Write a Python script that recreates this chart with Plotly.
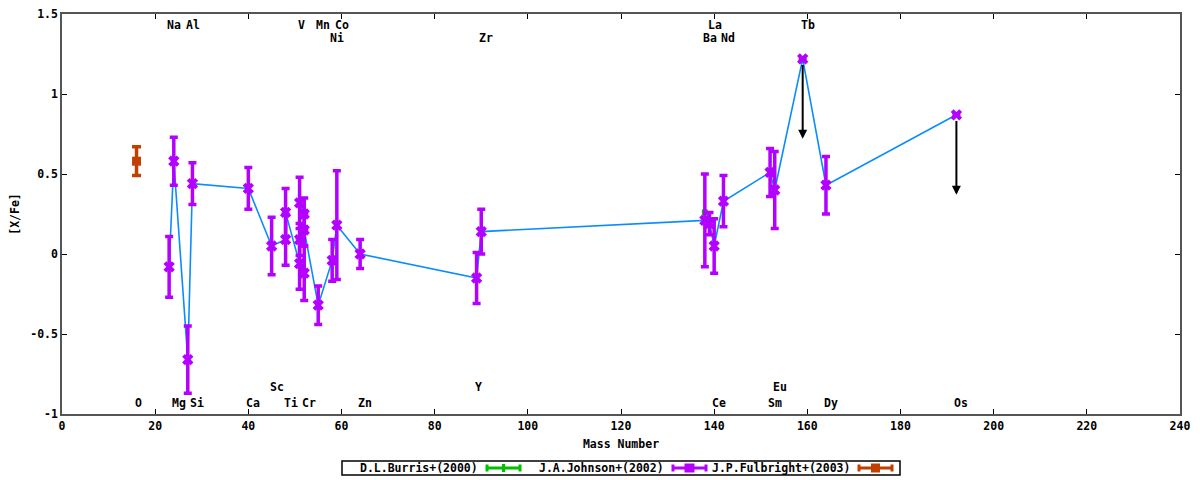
import plotly.graph_objects as go

# J.A.Johnson+(2002) abundances, in mass order (None error = upper limit)
jo_elem = ["Na", "Mg", "Al", "Si", "Ca", "Sc", "Ti", "Ti", "V", "V", "V",
           "Cr", "Cr", "Cr", "Mn", "Ni", "Co", "Zn", "Y", "Zr", "Ba", "La",
           "Ce", "Nd", "Sm", "Eu", "Tb", "Dy", "Os"]
jo_mass = [23, 24, 27, 28, 40, 45, 48, 48, 51, 51, 51,
           52, 52, 52, 55, 58, 59, 64, 89, 90, 138, 139,
           140, 142, 152, 153, 159, 164, 192]
jo_val = [-0.08, 0.58, -0.66, 0.44, 0.41, 0.05, 0.09, 0.26, -0.06, 0.09, 0.32,
          0.25, -0.12, 0.15, -0.32, -0.04, 0.18, 0.00, -0.15, 0.14, 0.21, 0.19,
          0.05, 0.33, 0.51, 0.40, 1.22, 0.43, 0.87]
jo_err = [0.19, 0.15, 0.21, 0.13, 0.13, 0.18, 0.16, 0.15, 0.16, 0.10, 0.16,
          0.10, 0.17, 0.10, 0.12, 0.13, 0.34, 0.09, 0.16, 0.14, 0.29, 0.07,
          0.17, 0.16, 0.15, 0.24, None, 0.18, None]
limit_len = 0.5

# D.L.Burris+(2000)
bu_mass = [138]
bu_val = [0.26]
bu_err = [0.10]

# J.P.Fulbright+(2003)
fu_mass = [16]
fu_val = [0.58]
fu_err = [0.09]

# element labels: name, mass, row (1/2 = top rows, -1/-2 = bottom rows)
lab_name = ["Na", "Al", "V", "Mn", "Co", "Ni", "Zr", "La", "Ba", "Nd", "Tb",
            "O", "Mg", "Si", "Ca", "Sc", "Ti", "Cr", "Zn", "Y", "Ce", "Sm", "Eu", "Dy", "Os"]
lab_mass = [23, 27, 51, 55, 59, 58, 90, 139, 138, 142, 159,
            16, 24, 28, 40, 45, 48, 52, 64, 89, 140, 152, 153, 164, 192]
lab_row = [1, 1, 1, 1, 1, 2, 2, 1, 2, 2, 1,
           -1, -1, -1, -1, -2, -1, -1, -1, -2, -1, -1, -2, -1, -1]

x_ticks = list(range(0, 241, 20))
y_ticks = [-1, -0.5, 0, 0.5, 1, 1.5]
y_tick_text = ["-1", "-0.5", "0", "0.5", "1", "1.5"]

FONT = "DejaVu Sans Mono"
PURPLE = "#b400ff"
ORANGE = "#c04000"
GREEN = "#00c000"
BLUE = "#0a8cff"

fig = go.Figure()

fig.add_trace(go.Scatter(x=jo_mass, y=jo_val, mode="lines",
                         line=dict(color=BLUE, width=1.6), hoverinfo="skip"))

fig.add_trace(go.Scatter(
    x=bu_mass, y=bu_val, mode="markers",
    marker=dict(symbol="square", size=6, color=GREEN),
    error_y=dict(type="data", array=bu_err, color=GREEN, thickness=2, width=0)))

fig.add_trace(go.Scatter(
    x=jo_mass, y=jo_val, mode="markers", text=jo_elem,
    marker=dict(symbol="x", size=10, color=PURPLE, line=dict(width=0)),
    error_y=dict(type="data", array=jo_err, color=PURPLE, thickness=3.5, width=4)))

fig.add_trace(go.Scatter(
    x=fu_mass, y=fu_val, mode="markers",
    marker=dict(symbol="square", size=9, color=ORANGE),
    error_y=dict(type="data", array=fu_err, color=ORANGE, thickness=3.5, width=4.5)))

# upper limit arrows
for m, v, e in zip(jo_mass, jo_val, jo_err):
    if e is None:
        fig.add_annotation(x=m, y=v - limit_len, ax=m, ay=v - 0.03,
                           xref="x", yref="y", axref="x", ayref="y",
                           showarrow=True, arrowhead=2, arrowsize=0.9,
                           arrowwidth=2, arrowcolor="black", text="")

# element labels
row_y = {1: 1.431, 2: 1.35, -1: -0.93, -2: -0.83}
for name, m, r in zip(lab_name, lab_mass, lab_row):
    fig.add_annotation(x=m, y=row_y[r], xref="x", yref="y", text=name,
                       showarrow=False, xanchor="left", xshift=-4,
                       font=dict(family=FONT, size=11.5, color="black", weight="bold"))

# page body has an 8px margin; positions below are screen pixels
OFF = 8
L, R, T, B = 62 - OFF, 1180 - OFF, 14 - OFF, 414 - OFF
def px(xp):
    return (xp - OFF - L) / (R - L)
def py(yp):
    return (B - (yp - OFF)) / (B - T)

shapes = [dict(type="rect", xref="paper", yref="paper",
               x0=px(342), x1=px(900), y0=py(461), y1=py(475),
               line=dict(color="black", width=1.5), fillcolor="white")]
entries = [("D.L.Burris+(2000)", 480, 486, GREEN, "tick"),
           ("J.A.Johnson+(2002)", 666, 672, PURPLE, "x"),
           ("J.P.Fulbright+(2003)", 852, 858, ORANGE, "sq")]
for text, tx, sx, col, kind in entries:
    fig.add_annotation(x=px(tx), y=py(468), xref="paper", yref="paper", text=text,
                       showarrow=False, xanchor="right", yanchor="middle",
                       font=dict(family=FONT, size=11.5, color="black", weight="bold"))
    ex = sx + 35
    shapes.append(dict(type="line", xref="paper", yref="paper", x0=px(sx), x1=px(ex),
                       y0=py(468), y1=py(468), line=dict(color=col, width=3)))
    for cx in (sx + 1, ex - 1):
        shapes.append(dict(type="line", xref="paper", yref="paper", x0=px(cx), x1=px(cx),
                           y0=py(464.5), y1=py(471.5), line=dict(color=col, width=3)))
    mid = (sx + ex) / 2
    if kind == "tick":
        shapes.append(dict(type="line", xref="paper", yref="paper", x0=px(mid), x1=px(mid),
                           y0=py(464), y1=py(472), line=dict(color=col, width=3)))
    else:
        w = 5 if kind == "x" else 4.5
        shapes.append(dict(type="rect", xref="paper", yref="paper",
                           x0=px(mid - w), x1=px(mid + w), y0=py(463.5), y1=py(472.5),
                           line=dict(width=0), fillcolor=col))
fig.update_layout(shapes=shapes)

axis_common = dict(showline=True, linecolor="#555555", linewidth=1.5, mirror="ticks",
                   ticks="inside", ticklen=5, tickwidth=1, tickcolor="black",
                   showgrid=False, zeroline=False, automargin=False,
                   ticklabeloverflow="allow",
                   tickfont=dict(family=FONT, size=11.5, color="black", weight="bold"))

fig.update_xaxes(range=[0, 240], tickvals=x_ticks,
                 title=dict(text="Mass Number", standoff=8,
                            font=dict(family=FONT, size=11.5, color="black", weight="bold")),
                 **axis_common)
fig.update_yaxes(range=[-1, 1.5], tickvals=y_ticks, ticktext=y_tick_text,
                 title=dict(text="[X/Fe]", standoff=8,
                            font=dict(family=FONT, size=11.5, color="black", weight="bold")),
                 **axis_common)

fig.update_layout(width=1200, height=480, showlegend=False,
                  margin=dict(l=L, r=1200 - R, t=T, b=480 - B, autoexpand=False),
                  paper_bgcolor="white", plot_bgcolor="white")

fig.write_html("out.html")
